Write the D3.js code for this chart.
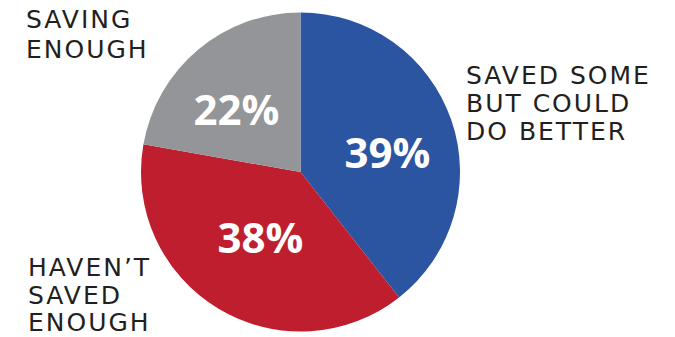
<!DOCTYPE html>
<html><head><meta charset="utf-8">
<script src="https://cdn.jsdelivr.net/npm/d3@7"></script>
<style>html,body{margin:0;padding:0;background:#fff;}</style>
</head><body>
<svg id="chart" width="675" height="337"></svg>
<script>
const categories = ["SAVED SOME BUT COULD DO BETTER", "HAVEN’T SAVED ENOUGH", "SAVING ENOUGH"];
const values = [39, 38, 22];
const valueLabels = ["39%", "38%", "22%"];
const colors = ["#2B54A1", "#BE1E2D", "#939598"];
const labelLines = [["SAVED SOME", "BUT COULD", "DO BETTER"], ["HAVEN’T", "SAVED", "ENOUGH"], ["SAVING", "ENOUGH"]];

const svg = d3.select("#chart");
const cx = 300.5, cy = 172, r = 159.5;
const g = svg.append("g").attr("transform", `translate(${cx},${cy})`);

const pie = d3.pie().sort(null).value(d => d);
const arcs = pie(values);
const arc = d3.arc().innerRadius(0).outerRadius(r);

g.selectAll("path").data(arcs).enter().append("path")
  .attr("d", arc).attr("fill", (d, i) => colors[i]);

// percent labels
const pctPos = [[87, -4], [-40, 81], [-64, -47]];
g.selectAll("text.pct").data(arcs).enter().append("text")
  .attr("class", "pct")
  .attr("x", (d, i) => pctPos[i][0]).attr("y", (d, i) => pctPos[i][1])
  .attr("text-anchor", "middle")
  .attr("fill", "#fff")
  .style("font-family", "'Open Sans', sans-serif")
  .style("font-weight", "700")
  .style("font-size", "42px")
  .text((d, i) => valueLabels[i]);

// category labels
const labelPos = [[466, 84.3, 28], [28, 276, 27.5], [26, 28.3, 30]];
labelLines.forEach((lines, i) => {
  const t = svg.append("text")
    .attr("fill", "#231F20")
    .style("font-family", "'DejaVu Sans', sans-serif")
    .style("font-size", "25px")
    .style("letter-spacing", "2px");
  lines.forEach((ln, j) => {
    t.append("tspan").attr("x", labelPos[i][0]).attr("y", labelPos[i][1] + j * labelPos[i][2]).text(ln);
  });
});
</script>
</body></html>
